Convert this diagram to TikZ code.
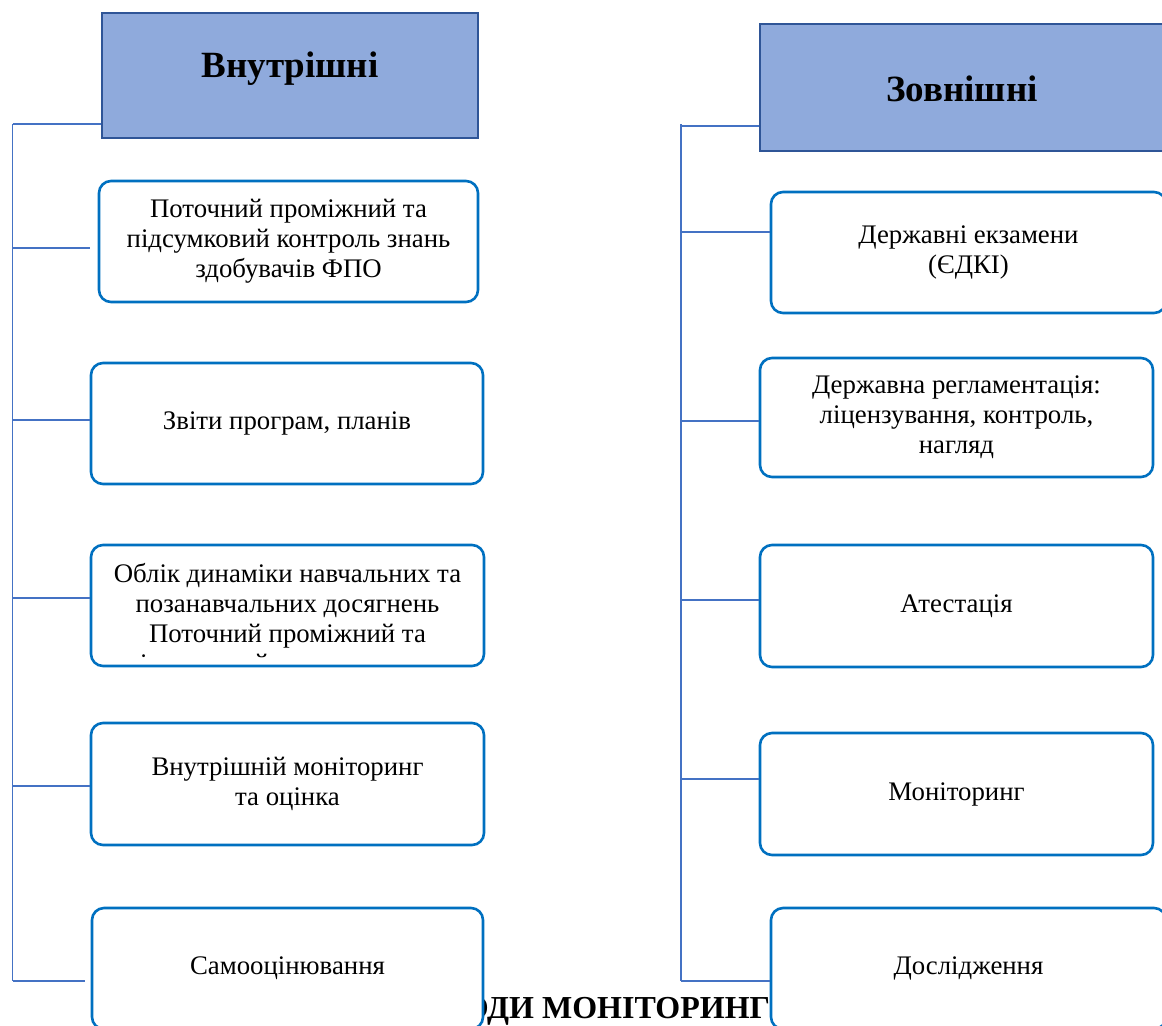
\documentclass[tikz,border=0pt]{standalone}
\usepackage{fontspec}
\setmainfont{Liberation Serif}
\usetikzlibrary{calc}
\definecolor{hdrfill}{HTML}{8FAADC}
\definecolor{hdrline}{HTML}{2F5597}
\definecolor{boxline}{HTML}{0070C0}
\definecolor{treeline}{HTML}{4472C4}
\newcommand\itemfont{\fontsize{13.4}{15}\selectfont}
\newcommand\hdrfont{\fontsize{18.5}{22}\selectfont\bfseries}
\newcommand\titlefont{\fontsize{16}{19}\selectfont\bfseries}
\begin{document}
\begin{tikzpicture}[x=0.5pt,y=-0.5pt,
  hdrbox/.style={draw=hdrline,fill=hdrfill,line width=1.3pt,inner sep=0pt},
  hdrtext/.style={font=\hdrfont,anchor=base,inner sep=0pt},
  itembox/.style={draw=boxline,fill=white,line width=1.3pt,rounded corners=6pt,inner sep=0pt,
    align=center,font=\itemfont,minimum width=196.5pt,minimum height=60.5pt},
  linetext/.style={font=\itemfont,anchor=base,inner sep=0pt},
  tree/.style={draw=treeline,line width=0.75pt}]
\useasboundingbox (0,0) rectangle (1162,1025);
\clip (0,0) rectangle (1162,1025);

% title, partly hidden behind the lowest boxes
\node[font=\titlefont,anchor=base west,inner sep=0pt] (title) at (391,1018) {МЕТОДИ МОНІТОРИНГУ};

% headers
\node[hdrbox,minimum width=188pt,minimum height=62.5pt] (hL) at (290,75.5) {};
\node[hdrtext] (hLt) at (290,77) {Внутрішні};
\node[hdrbox,minimum width=206pt,minimum height=63.5pt] (hR) at (966,87.5) {};
\node[hdrtext] (hRt) at (962,101) {Зовнішні};

% left column
\node[itembox,minimum width=189.5pt] (L1) at (288.5,241.5) {Поточний проміжний та\\підсумковий контроль знань\\здобувачів ФПО};
\node[itembox,minimum width=196pt] (L2) at (287,423.5) {Звіти програм, планів};
\node[itembox] (L3) at (287.5,605.5) {};
\begin{scope}
  \clip (92,546) rectangle (483,657);
  \node[linetext] (L3a) at (287.5,582) {Облік динаміки навчальних та};
  \node[linetext] (L3b) at (287.5,612) {позанавчальних досягнень};
  \node[linetext] (L3c) at (287.5,642) {Поточний проміжний та};
  \node[linetext] (L3d) at (287.5,672) {підсумковий контроль знань};
\end{scope}
\node[itembox,minimum height=61pt] (L4) at (287.5,784) {Внутрішній моніторинг\\та оцінка};
\node[itembox,minimum width=195.5pt] (L5) at (287.5,968.5) {Самооцінювання};

% right column
\node[itembox,minimum width=197.5pt] (R1) at (968.5,252.5) {Державні екзамени\\(ЄДКІ)};
\node[itembox,minimum height=59.5pt] (R2) at (956.5,417.5) {Державна регламентація:\\ліцензування, контроль,\\нагляд};
\node[itembox,minimum height=61pt] (R3) at (956.5,606) {Атестація};
\node[itembox,minimum height=61pt] (R4) at (956.5,794) {Моніторинг};
\node[itembox,minimum width=197.5pt] (R5) at (968.5,968.5) {Дослідження};

% left tree
\coordinate (lt) at (12.5,124);
\coordinate (l1) at (12.5,248);
\coordinate (l2) at (12.5,420);
\coordinate (l3) at (12.5,598);
\coordinate (l4) at (12.5,786);
\coordinate (lb) at (12.5,981);
\draw[tree] (lt) -- (lb);
\draw[tree] (lt) -- (lt -| hL.west);
\draw[tree] (l1) -- ($(l1 -| L1.west)+(-8,0)$);
\draw[tree] (l2) -- (l2 -| L2.west);
\draw[tree] (l3) -- (l3 -| L3.west);
\draw[tree] (l4) -- (l4 -| L4.west);
\draw[tree] (lb) -- ($(lb -| L5.west)+(-6,0)$);

% right tree
\coordinate (rt) at (681,124);
\coordinate (r0) at (681,126);
\coordinate (r1) at (681,232);
\coordinate (r2) at (681,421);
\coordinate (r3) at (681,600);
\coordinate (r4) at (681,779);
\coordinate (rb) at (681,981);
\draw[tree] (rt) -- (rb);
\draw[tree] (r0) -- (r0 -| hR.west);
\draw[tree] (r1) -- (r1 -| R1.west);
\draw[tree] (r2) -- (r2 -| R2.west);
\draw[tree] (r3) -- (r3 -| R3.west);
\draw[tree] (r4) -- (r4 -| R4.west);
\draw[tree] (rb) -- (rb -| R5.west);
\end{tikzpicture}
\end{document}
